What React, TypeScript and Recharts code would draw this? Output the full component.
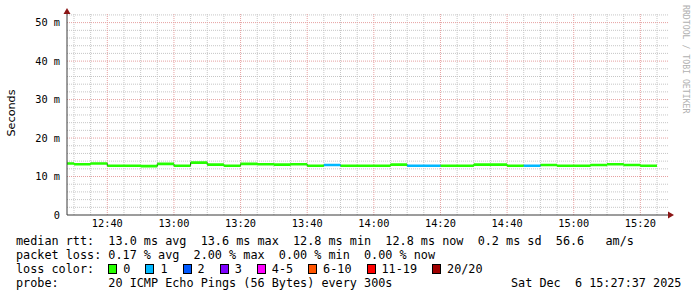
import React from 'react';
import { LineChart, Line, XAxis, YAxis, ReferenceLine, ReferenceDot } from 'recharts';

// ---- data ----
const segmentEnds = [
  '12:30', '12:35', '12:40', '12:45', '12:50', '12:55', '13:00', '13:05', '13:10', '13:15',
  '13:20', '13:25', '13:30', '13:35', '13:40', '13:45', '13:50', '13:55', '14:00', '14:05',
  '14:10', '14:15', '14:20', '14:25', '14:30', '14:35', '14:40', '14:45', '14:50', '14:55',
  '15:00', '15:05', '15:10', '15:15', '15:20', '15:25',
];
const medianRtt = [
  13.4, 13.2, 13.4, 12.8, 12.8, 12.7, 13.3, 12.8, 13.6, 13.1,
  12.8, 13.3, 13.2, 13.1, 13.2, 12.8, 13.0, 12.8, 12.8, 12.8,
  13.1, 12.8, 12.8, 12.8, 12.8, 13.1, 13.1, 12.8, 12.8, 13.0,
  12.8, 12.8, 13.0, 13.2, 13.0, 12.8,
];
const lostPings = [
  0, 0, 0, 0, 0, 0, 0, 0, 0, 0,
  0, 0, 0, 0, 0, 0, 1, 0, 0, 0,
  0, 1, 1, 0, 0, 0, 0, 0, 1, 0,
  0, 0, 0, 0, 0, 0,
];
const stepMinutes = 5;

const lossLabels = ['0', '1', '2', '3', '4-5', '6-10', '11-19', '20/20'];
const lossUpper = [0, 1, 2, 3, 5, 10, 19, 20];
const lossColors = ['#26ff00', '#00b8ff', '#0059ff', '#7e00ff', '#ff00ff', '#ff5500', '#ff0000', '#a00000'];

const xTickLabels = ['12:40', '13:00', '13:20', '13:40', '14:00', '14:20', '14:40', '15:00', '15:20'];
const xWindow = ['12:27:54', '15:28:36'];
const yTicks = [0, 10, 20, 30, 40, 50];
const yMax = 52.5;
const yUnit = 'm';

const statLines = [
  'median rtt:  13.0 ms avg  13.6 ms max  12.8 ms min  12.8 ms now  0.2 ms sd  56.6   am/s',
  'packet loss: 0.17 % avg  2.00 % max  0.00 % min  0.00 % now',
];
const lossTitle = 'loss color:  ';
const probeTitle = 'probe:       ';
const probeText = '20 ICMP Echo Pings (56 Bytes) every 300s';
const timestamp = 'Sat Dec  6 15:27:37 2025';
const yLabel = 'Seconds';
const sideText = 'RRDTOOL / TOBI OETIKER';

// ---- helpers ----
const toMin = (s: string) => {
  const p = s.split(':').map(Number);
  return p[0] * 60 + p[1] + (p[2] || 0) / 60;
};
const fmtTime = (m: number) => `${Math.floor(m / 60)}:${String(Math.round(m % 60)).padStart(2, '0')}`;
const colorIndex = (lost: number) => lossUpper.findIndex((u) => lost <= u);

const rows: Array<Record<string, number>> = [];
segmentEnds.forEach((e, i) => {
  const end = toMin(e);
  const start = end - stepMinutes;
  const v = medianRtt[i];
  const key = `c${colorIndex(lostPings[i])}`;
  rows.push({ t: start, median: v, [key]: v });
  rows.push({ t: end, median: v, [key]: v });
  rows.push({ t: end });
});

const xDomain = [toMin(xWindow[0]), toMin(xWindow[1])];
const xTicks = xTickLabels.map(toMin);

const minorX: number[] = [];
for (let m = Math.ceil(xDomain[0] / 5) * 5; m <= xDomain[1]; m += 5) {
  if (m % 20 !== 0) minorX.push(m);
}
const minorY: number[] = [];
for (let v = 2; v <= yMax; v += 2) {
  if (v % 10 !== 0) minorY.push(v);
}
const majorY = yTicks.filter((v) => v > 0);

const MONO = '"DejaVu Sans Mono", monospace';
const SANS = '"DejaVu Sans", sans-serif';
const GRID = '#c6c6c6';
const MGRID = '#e6a0a0';
const ARROW = '#8b1515';
const AXIS = '#3a3a3a';

const XArrow = (p: any) => (
  <path d={`M${p.cx - 1},${p.cy - 3.5} L${p.cx + 5},${p.cy} L${p.cx - 1},${p.cy + 3.5} Z`} fill={ARROW} />
);
const YArrow = (p: any) => (
  <path d={`M${p.cx - 3.5},${p.cy + 1} L${p.cx},${p.cy - 5} L${p.cx + 3.5},${p.cy + 1} Z`} fill={ARROW} />
);

const textRow: React.CSSProperties = {
  position: 'absolute',
  left: 16,
  fontFamily: MONO,
  fontSize: 11.8,
  lineHeight: '14px',
  whiteSpace: 'pre',
  color: '#000',
};

export default function App() {
  return (
    <div style={{ position: 'absolute', left: 0, top: 0, width: 697, height: 297, background: '#fff', overflow: 'hidden' }}>
      <LineChart width={697} height={297} data={rows} margin={{ top: 13, right: 28, bottom: 62, left: 0 }}>
        <XAxis
          dataKey="t"
          type="number"
          domain={xDomain}
          allowDataOverflow
          ticks={xTicks}
          tickFormatter={fmtTime}
          interval={0}
          height={20}
          tickSize={0}
          tickMargin={5}
          axisLine={{ stroke: AXIS, strokeWidth: 1 }}
          tick={{ fontFamily: MONO, fontSize: 10.3, fill: '#000' }}
        />
        <YAxis
          type="number"
          domain={[0, yMax]}
          allowDataOverflow
          ticks={yTicks}
          interval={0}
          width={67}
          tickSize={0}
          tickMargin={7}
          tickFormatter={(v: number) => (v === 0 ? '0' : `${v} ${yUnit}`)}
          axisLine={{ stroke: AXIS, strokeWidth: 1 }}
          tick={{ fontFamily: MONO, fontSize: 10.3, fill: '#000' }}
        />
        {minorY.map((v) => (
          <ReferenceLine key={`my${v}`} y={v} stroke={GRID} strokeDasharray="1 1" />
        ))}
        {minorX.map((v) => (
          <ReferenceLine key={`mx${v}`} x={v} stroke={GRID} strokeDasharray="1 1" />
        ))}
        {majorY.map((v) => (
          <ReferenceLine key={`My${v}`} y={v} stroke={MGRID} strokeDasharray="1 1" />
        ))}
        {xTicks.map((v) => (
          <ReferenceLine key={`Mx${v}`} x={v} stroke={MGRID} strokeDasharray="1 1" />
        ))}
        <Line
          dataKey="median"
          type="linear"
          stroke="#111"
          strokeWidth={1}
          dot={false}
          activeDot={false}
          connectNulls
          isAnimationActive={false}
        />
        {lossColors.map((c, i) => (
          <Line
            key={c}
            dataKey={`c${i}`}
            type="linear"
            stroke={c}
            strokeWidth={2.6}
            strokeLinecap="butt"
            dot={false}
            activeDot={false}
            connectNulls={false}
            isAnimationActive={false}
          />
        ))}
        <ReferenceDot x={xDomain[1]} y={0} r={0} ifOverflow="visible" shape={XArrow} />
        <ReferenceDot x={xDomain[0]} y={yMax} r={0} ifOverflow="visible" shape={YArrow} />
      </LineChart>

      <div
        style={{
          position: 'absolute',
          left: 11,
          top: 113,
          transform: 'translate(-50%, -50%) rotate(-90deg)',
          fontFamily: SANS,
          fontSize: 11.2,
          color: '#000',
          whiteSpace: 'nowrap',
        }}
      >
        {yLabel}
      </div>

      <div
        style={{
          position: 'absolute',
          left: 681,
          top: 5,
          writingMode: 'vertical-rl',
          fontFamily: MONO,
          fontSize: 8.2,
          color: '#b0b0b0',
          whiteSpace: 'pre',
          lineHeight: '10px',
        }}
      >
        {sideText}
      </div>

      {statLines.map((s, i) => (
        <div key={i} style={{ ...textRow, top: 234 + i * 14 }}>
          {s}
        </div>
      ))}
      <div style={{ ...textRow, top: 262, display: 'flex', alignItems: 'center' }}>
        <span>{lossTitle}</span>
        {lossLabels.map((l, i) => (
          <span key={l} style={{ display: 'inline-flex', alignItems: 'center', marginRight: 15 }}>
            <span
              style={{
                display: 'inline-block',
                width: 7,
                height: 8,
                border: '1px solid #000',
                background: lossColors[i],
                marginRight: 6,
              }}
            />
            <span>{l}</span>
          </span>
        ))}
      </div>
      <div style={{ ...textRow, top: 276 }}>
        {probeTitle}
        {probeText}
      </div>
      <div style={{ ...textRow, top: 276, left: 511 }}>{timestamp}</div>
    </div>
  );
}
